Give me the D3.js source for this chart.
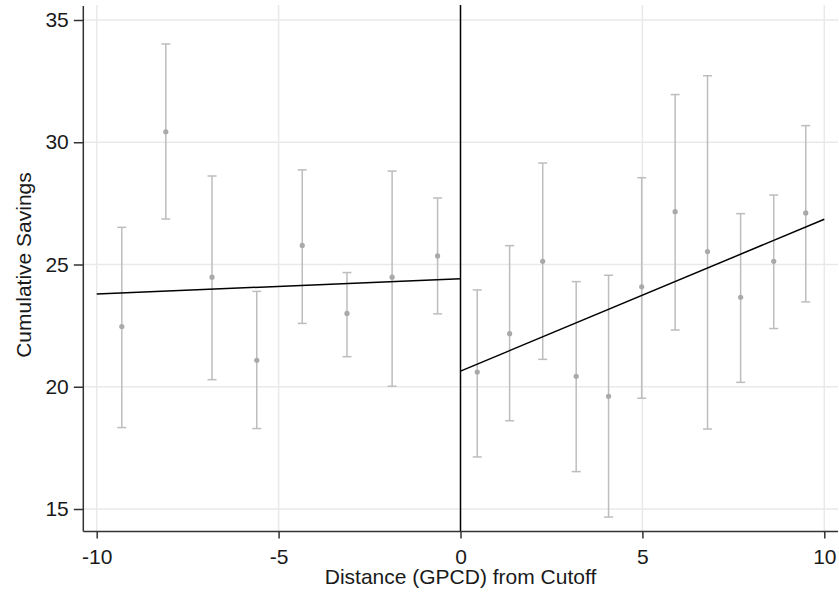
<!doctype html>
<html>
  <head>
    <meta charset="utf-8">
    <title>RD plot</title>
    <style>
      body { margin: 0; background: #fff; }
      text { font-family: "Liberation Sans", Arial, sans-serif; fill: #1a1a1a; }
      .grid line { stroke: #e9e9e9; stroke-width: 1.5px; }
      .bar { stroke: #bdbdbd; stroke-width: 1.5px; }
      .dot { fill: #a9a9a9; }
      .fit { fill: none; stroke: #000; stroke-width: 1.5px; }
    </style>
    <script src="https://cdnjs.cloudflare.com/ajax/libs/d3/7.8.5/d3.min.js"></script>
  </head>
  <body>
  <script>
    // bin midpoints and means with confidence bounds
    var binX   = [-9.31, -8.10, -6.83, -5.60, -4.35, -3.12, -1.88, -0.63,
                  0.46, 1.35, 2.26, 3.18, 4.07, 4.98, 5.90, 6.79, 7.70, 8.61, 9.49];
    var binMean = [22.46, 30.43, 24.48, 21.08, 25.78, 23.00, 24.48, 25.35,
                  20.60, 22.17, 25.13, 20.43, 19.61, 24.09, 27.16, 25.53, 23.66, 25.13, 27.11];
    var binHi  = [26.52, 34.02, 28.62, 23.90, 28.87, 24.67, 28.82, 27.72,
                  23.96, 25.77, 29.15, 24.30, 24.56, 28.55, 31.95, 32.72, 27.08, 27.84, 30.68];
    var binLo  = [18.33, 26.86, 20.29, 18.29, 22.59, 21.23, 20.02, 22.98,
                  17.13, 18.61, 21.12, 16.53, 14.67, 19.53, 22.32, 18.27, 20.18, 22.38, 23.47];

    // linear fits either side of the cutoff (value at each end)
    var fitLeftX = [-10, 0],  fitLeftY = [23.79, 24.42];
    var fitRightX = [0, 10],  fitRightY = [20.64, 26.85];

    var xTicks = [-10, -5, 0, 5, 10];
    var yTicks = [15, 20, 25, 30, 35];

    var width = 839, height = 595;
    var x = d3.scaleLinear().domain([-10, 10]).range([96.7, 824.3]);
    var y = d3.scaleLinear().domain([15, 35]).range([509, 20]);
    var plotLeft = 83.3, plotRight = 838, plotTop = 5, plotBottom = 531.5;

    var svg = d3.select("body").append("svg")
        .attr("width", width)
        .attr("height", height);

    // gridlines
    var grid = svg.append("g").attr("class", "grid");
    grid.selectAll(".gy").data(yTicks).enter().append("line")
        .attr("x1", plotLeft).attr("x2", plotRight)
        .attr("y1", function(d) { return y(d); })
        .attr("y2", function(d) { return y(d); });
    grid.selectAll(".gx").data(xTicks.filter(function(d) { return d !== 0; })).enter().append("line")
        .attr("x1", function(d) { return x(d); })
        .attr("x2", function(d) { return x(d); })
        .attr("y1", plotTop).attr("y2", plotBottom);

    // cutoff line
    svg.append("line")
        .attr("x1", x(0)).attr("x2", x(0))
        .attr("y1", plotTop).attr("y2", plotBottom)
        .attr("stroke", "#000").attr("stroke-width", 1.5);

    // error bars
    var bars = svg.append("g");
    var cap = 4.5;
    binX.forEach(function(bx, i) {
      var cx = x(bx);
      bars.append("line").attr("class", "bar")
          .attr("x1", cx).attr("x2", cx)
          .attr("y1", y(binHi[i])).attr("y2", y(binLo[i]));
      [binHi[i], binLo[i]].forEach(function(v) {
        bars.append("line").attr("class", "bar")
            .attr("x1", cx - cap).attr("x2", cx + cap)
            .attr("y1", y(v)).attr("y2", y(v));
      });
    });
    bars.selectAll(".dot").data(binX).enter().append("circle")
        .attr("class", "dot")
        .attr("cx", function(d) { return x(d); })
        .attr("cy", function(d, i) { return y(binMean[i]); })
        .attr("r", 2.6);

    // fit lines
    var line = d3.line()
        .x(function(d) { return x(d[0]); })
        .y(function(d) { return y(d[1]); });
    svg.append("path").attr("class", "fit")
        .attr("d", line(d3.zip(fitLeftX, fitLeftY)));
    svg.append("path").attr("class", "fit")
        .attr("d", line(d3.zip(fitRightX, fitRightY)));

    // axes (plain hyphen for negatives)
    var fmt = function(d) { return String(d); };
    var yAxis = svg.append("g")
        .attr("transform", "translate(" + plotLeft + ",0)")
        .call(d3.axisLeft(y).tickValues(yTicks).tickFormat(fmt)
          .tickSize(9.5).tickPadding(5).tickSizeOuter(0));
    var xAxis = svg.append("g")
        .attr("transform", "translate(0," + plotBottom + ")")
        .call(d3.axisBottom(x).tickValues(xTicks).tickFormat(fmt)
          .tickSize(7).tickPadding(11).tickSizeOuter(0));

    [xAxis, yAxis].forEach(function(a) {
      a.select(".domain").remove();
      a.selectAll(".tick line").attr("stroke", "#333").attr("stroke-width", 1.5);
      a.selectAll(".tick text")
          .style("font-family", '"Liberation Sans", Arial, sans-serif')
          .style("font-size", "21px")
          .attr("fill", "#1a1a1a");
    });

    // axis lines
    svg.append("line")
        .attr("x1", plotLeft).attr("x2", plotLeft)
        .attr("y1", 6).attr("y2", plotBottom)
        .attr("stroke", "#333").attr("stroke-width", 1.5);
    svg.append("line")
        .attr("x1", plotLeft).attr("x2", plotRight)
        .attr("y1", plotBottom).attr("y2", plotBottom)
        .attr("stroke", "#333").attr("stroke-width", 1.5);

    // titles
    svg.append("text")
        .attr("x", x(0)).attr("y", 584)
        .attr("text-anchor", "middle")
        .style("font-size", "21px")
        .text("Distance (GPCD) from Cutoff");
    svg.append("text")
        .attr("transform", "translate(31,265) rotate(-90)")
        .attr("text-anchor", "middle")
        .style("font-size", "21px")
        .text("Cumulative Savings");
  </script>
  </body>
</html>
